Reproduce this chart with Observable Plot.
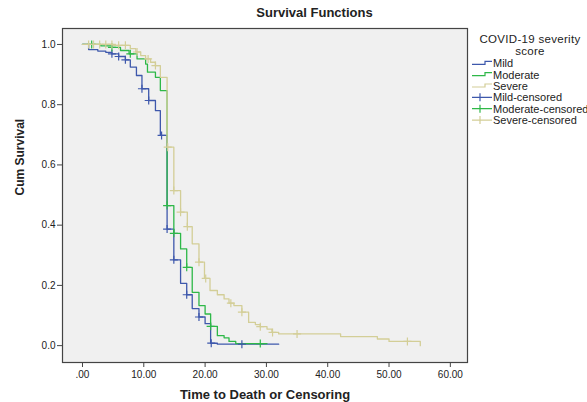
<!DOCTYPE html>
<html><head><meta charset="utf-8">
<script src="https://cdn.jsdelivr.net/npm/d3@7"></script>
<script src="https://cdn.jsdelivr.net/npm/@observablehq/plot@0.6"></script>
<style>
body{margin:0;background:#fff;}
#chart{width:587px;height:402px;overflow:hidden;}
</style></head><body><div id="chart"></div>
<script>
const groups = ["Mild", "Moderate", "Severe"];
const colors = ["#3e58ac", "#2eb848", "#d3ce97"];
const legendLabels = ["Mild", "Moderate", "Severe", "Mild-censored", "Moderate-censored", "Severe-censored"];
const xTicks = [0, 10, 20, 30, 40, 50, 60];
const yTicks = [0, 0.2, 0.4, 0.6, 0.8, 1.0];

// Kaplan-Meier step points (time, cumulative survival)
const mildTime = [0, 1.0, 2.5, 3.8, 4.8, 5.9, 7.0, 7.8, 8.8, 9.7, 10.8, 11.9, 12.7, 13.8, 14.9, 16.0, 17.0, 17.9, 19.0, 20.0, 20.9, 22.0, 32.0];
const mildSurv = [1.0, 0.983, 0.978, 0.974, 0.969, 0.960, 0.949, 0.925, 0.897, 0.853, 0.814, 0.780, 0.698, 0.387, 0.285, 0.207, 0.169, 0.123, 0.095, 0.073, 0.008, 0.005, 0.005];
const mildCensor = [4.8, 5.9, 7.0, 9.7, 10.8, 12.9, 13.8, 14.9, 17.0, 19.0, 21.0, 26.0];

const modTime = [0, 3.0, 4.8, 6.2, 7.6, 8.9, 10.3, 10.6, 11.9, 12.7, 13.8, 14.9, 16.0, 17.0, 17.9, 19.0, 20.0, 20.9, 22.0, 23.1, 23.9, 25.0, 30.1];
const modSurv = [1.0, 0.995, 0.990, 0.980, 0.969, 0.952, 0.935, 0.908, 0.891, 0.847, 0.465, 0.373, 0.321, 0.260, 0.177, 0.133, 0.105, 0.064, 0.033, 0.026, 0.014, 0.007, 0.007];
const modCensor = [1.5, 4.8, 7.8, 13.8, 14.9, 17.0, 20.9, 29.0];

const sevTime = [0, 5.0, 7.8, 8.7, 9.5, 10.3, 11.1, 11.9, 12.7, 13.8, 14.9, 16.0, 17.1, 17.9, 19.0, 19.9, 20.8, 22.0, 23.1, 23.9, 24.7, 26.0, 27.1, 28.2, 29.0, 30.1, 30.9, 32.0, 42.1, 48.1, 50.0, 55.1];
const sevSurv = [1.0, 0.997, 0.986, 0.975, 0.963, 0.952, 0.941, 0.930, 0.891, 0.659, 0.515, 0.443, 0.395, 0.338, 0.277, 0.223, 0.183, 0.169, 0.155, 0.141, 0.133, 0.111, 0.077, 0.070, 0.063, 0.055, 0.044, 0.039, 0.030, 0.022, 0.014, 0.0];
const sevCensor = [1.0, 1.8, 2.8, 3.8, 4.8, 5.9, 7.0, 8.9, 10.7, 11.9, 13.9, 14.9, 16.0, 17.1, 19.0, 20.1, 24.2, 26.0, 29.0, 31.0, 35.0, 53.0];

const series = [
  {g: "Mild", t: mildTime, s: mildSurv, c: mildCensor},
  {g: "Moderate", t: modTime, s: modSurv, c: modCensor},
  {g: "Severe", t: sevTime, s: sevSurv, c: sevCensor}
];

const steps = [];
const censored = [];
for (const sr of series) {
  sr.t.forEach((t, i) => steps.push({group: sr.g, t, s: sr.s[i]}));
  for (const ct of sr.c) {
    let s = sr.s[0];
    for (let i = 0; i < sr.t.length; i++) if (sr.t[i] <= ct) s = sr.s[i];
    censored.push({group: sr.g, t: ct, s});
  }
}

const plusSymbol = {
  draw(ctx, size) {
    const r = Math.sqrt(size / Math.PI);
    ctx.moveTo(-r, 0); ctx.lineTo(r, 0);
    ctx.moveTo(0, -r); ctx.lineTo(0, r);
  }
};

const font = "'Liberation Sans', Arial, sans-serif";
const marginLeft = 62, marginRight = 120, marginTop = 28, marginBottom = 40;

const chart = Plot.plot({
  width: 587, height: 402,
  marginLeft, marginRight, marginTop, marginBottom,
  style: {fontFamily: font, fontSize: "10px", color: "#222", background: "transparent", overflow: "visible"},
  x: {domain: [-3.26, 62.8]},
  y: {domain: [-0.056, 1.053]},
  color: {domain: groups, range: colors},
  marks: [
    Plot.frame({fill: "#f0f0f0"}),
    Plot.line(steps, {x: "t", y: "s", z: "group", stroke: "group", curve: "step-after", strokeWidth: 1.3}),
    Plot.dot(censored, {x: "t", y: "s", stroke: "group", symbol: plusSymbol, r: 4, strokeWidth: 1.2}),
    Plot.frame({stroke: "#444", strokeWidth: 1.2}),
    Plot.axisX({ticks: xTicks, tickFormat: d => d === 0 ? ".00" : d.toFixed(2), tickSize: 5, tickPadding: 3, label: null, stroke: "#444"}),
    Plot.axisY({ticks: yTicks, tickFormat: d => d.toFixed(1), tickSize: 5, tickPadding: 2, label: null, stroke: "#444"}),
    Plot.text(["Survival Functions"], {frameAnchor: "top", dx: 49.5, dy: -16, lineAnchor: "middle", fontWeight: "bold", fontSize: 13, fill: "#222"}),
    Plot.text(["Time to Death or Censoring"], {frameAnchor: "bottom", dy: 32, lineAnchor: "middle", fontWeight: "bold", fontSize: 13, fill: "#222"}),
    Plot.text(["Cum Survival"], {frameAnchor: "left", dx: -42, rotate: -90, lineAnchor: "middle", fontWeight: "bold", fontSize: 12, fill: "#222"})
  ]
});

// Legend
const svg = d3.select(chart);
const lg = svg.append("g").attr("font-family", font).attr("fill", "#222");
lg.append("text").attr("x", 530).attr("y", 38.5).attr("dy", "0.35em").attr("text-anchor", "middle").attr("font-size", 11.5).attr("letter-spacing", "0.3px").text("COVID-19 severity");
lg.append("text").attr("x", 530).attr("y", 51).attr("dy", "0.35em").attr("text-anchor", "middle").attr("font-size", 11.5).attr("letter-spacing", "0.3px").text("score");
legendLabels.forEach((name, i) => {
  const y = 63.3 + i * 11.35;
  const c = colors[i % 3];
  if (i < 3) {
    lg.append("path").attr("d", `M472,${y + 1}H485V${y - 2}H492`).attr("fill", "none").attr("stroke", c).attr("stroke-width", 1.2);
  } else {
    lg.append("path").attr("d", `M472,${y}H492M480,${y - 4}V${y + 4}`).attr("fill", "none").attr("stroke", c).attr("stroke-width", 1.2);
  }
  lg.append("text").attr("x", 493).attr("y", y).attr("dy", "0.35em").attr("text-anchor", "start").attr("font-size", 11).text(name);
});

document.getElementById("chart").appendChild(chart);
</script>
</body></html>
